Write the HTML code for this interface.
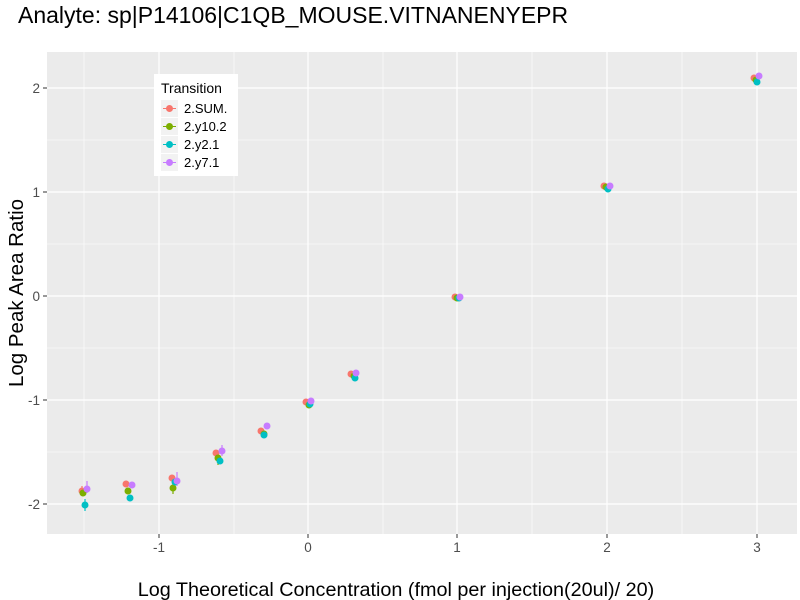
<!DOCTYPE html>
<html><head><style>body{margin:0;background:#fff}svg{display:block;font-family:"Liberation Sans",sans-serif}</style></head>
<body>
<svg width="800" height="600" xmlns="http://www.w3.org/2000/svg">
<rect width="800" height="600" fill="#fff"/>
<text x="18" y="23" font-size="23" fill="#000">Analyte: sp|P14106|C1QB_MOUSE.VITNANENYEPR</text>
<rect x="47" y="52" width="750" height="482" fill="#EBEBEB"/>
<g stroke="#fff" stroke-width="0.6">
<line x1="84" x2="84" y1="52" y2="534"/><line x1="234" x2="234" y1="52" y2="534"/><line x1="383" x2="383" y1="52" y2="534"/><line x1="532" x2="532" y1="52" y2="534"/><line x1="682" x2="682" y1="52" y2="534"/>
<line x1="47" x2="797" y1="140" y2="140"/><line x1="47" x2="797" y1="244" y2="244"/><line x1="47" x2="797" y1="348" y2="348"/><line x1="47" x2="797" y1="452" y2="452"/>
</g>
<g stroke="#fff" stroke-width="1.2">
<line x1="159" x2="159" y1="52" y2="534"/><line x1="308" x2="308" y1="52" y2="534"/><line x1="457" x2="457" y1="52" y2="534"/><line x1="607" x2="607" y1="52" y2="534"/><line x1="757" x2="757" y1="52" y2="534"/>
<line x1="47" x2="797" y1="88" y2="88"/><line x1="47" x2="797" y1="192" y2="192"/><line x1="47" x2="797" y1="296" y2="296"/><line x1="47" x2="797" y1="400" y2="400"/><line x1="47" x2="797" y1="504" y2="504"/>
</g>
<g stroke-width="1.2">
<line x1="82" x2="82" y1="486" y2="496" stroke="#F8766D"/>
<line x1="87" x2="87" y1="481" y2="493" stroke="#C77CFF"/>
<line x1="85" x2="85" y1="499" y2="511" stroke="#00BFC4"/>
<line x1="177" x2="177" y1="472" y2="486" stroke="#C77CFF"/>
<line x1="173" x2="173" y1="483" y2="494" stroke="#7CAE00"/>
<line x1="222" x2="222" y1="445" y2="456" stroke="#C77CFF"/>
<line x1="218" x2="218" y1="454" y2="465" stroke="#7CAE00"/>
</g>
<g>
<g fill="#F8766D"><circle cx="82" cy="491" r="3.5"/><circle cx="126" cy="484" r="3.5"/><circle cx="172" cy="478" r="3.5"/><circle cx="216" cy="453" r="3.5"/><circle cx="261" cy="431" r="3.5"/><circle cx="306" cy="402" r="3.5"/><circle cx="351" cy="374" r="3.5"/><circle cx="455" cy="297" r="3.5"/><circle cx="604" cy="186" r="3.5"/><circle cx="754" cy="78" r="3.5"/></g>
<g fill="#7CAE00"><circle cx="83" cy="493" r="3.5"/><circle cx="128" cy="491" r="3.5"/><circle cx="173" cy="488" r="3.5"/><circle cx="218" cy="458" r="3.5"/><circle cx="264" cy="434" r="3.5"/><circle cx="309" cy="405" r="3.5"/><circle cx="354" cy="376" r="3.5"/><circle cx="457" cy="298" r="3.5"/><circle cx="606" cy="187" r="3.5"/><circle cx="756" cy="80" r="3.5"/></g>
<g fill="#00BFC4"><circle cx="85" cy="505" r="3.5"/><circle cx="130" cy="498" r="3.5"/><circle cx="175" cy="482" r="3.5"/><circle cx="220" cy="461" r="3.5"/><circle cx="264" cy="435" r="3.5"/><circle cx="310" cy="404" r="3.5"/><circle cx="355" cy="378" r="3.5"/><circle cx="459" cy="298" r="3.5"/><circle cx="608" cy="189" r="3.5"/><circle cx="757" cy="82" r="3.5"/></g>
<g fill="#C77CFF"><circle cx="87" cy="489" r="3.5"/><circle cx="132" cy="485" r="3.5"/><circle cx="177" cy="481" r="3.5"/><circle cx="222" cy="451" r="3.5"/><circle cx="267" cy="426" r="3.5"/><circle cx="311" cy="401" r="3.5"/><circle cx="356" cy="373" r="3.5"/><circle cx="460" cy="297" r="3.5"/><circle cx="610" cy="186" r="3.5"/><circle cx="759" cy="76" r="3.5"/></g>
</g>
<rect x="154" y="74" width="84" height="102" fill="#fff"/>
<text x="161" y="93" font-size="14">Transition</text>
<g font-size="13">
<rect x="161" y="100" width="17" height="17" fill="#F2F2F2"/><line x1="163" x2="176" y1="108.5" y2="108.5" stroke="#F8766D"/><circle cx="169.5" cy="108.5" r="3.5" fill="#F8766D"/><text x="184" y="113">2.SUM.</text>
<rect x="161" y="118" width="17" height="17" fill="#F2F2F2"/><line x1="163" x2="176" y1="126.5" y2="126.5" stroke="#7CAE00"/><circle cx="169.5" cy="126.5" r="3.5" fill="#7CAE00"/><text x="184" y="131">2.y10.2</text>
<rect x="161" y="136" width="17" height="17" fill="#F2F2F2"/><line x1="163" x2="176" y1="144.5" y2="144.5" stroke="#00BFC4"/><circle cx="169.5" cy="144.5" r="3.5" fill="#00BFC4"/><text x="184" y="149">2.y2.1</text>
<rect x="161" y="154" width="17" height="17" fill="#F2F2F2"/><line x1="163" x2="176" y1="162.5" y2="162.5" stroke="#C77CFF"/><circle cx="169.5" cy="162.5" r="3.5" fill="#C77CFF"/><text x="184" y="167">2.y7.1</text>
</g>
<g stroke="#333" stroke-width="1">
<line x1="159" x2="159" y1="534" y2="538"/><line x1="308" x2="308" y1="534" y2="538"/><line x1="457" x2="457" y1="534" y2="538"/><line x1="607" x2="607" y1="534" y2="538"/><line x1="757" x2="757" y1="534" y2="538"/>
<line x1="43" x2="47" y1="88" y2="88"/><line x1="43" x2="47" y1="192" y2="192"/><line x1="43" x2="47" y1="296" y2="296"/><line x1="43" x2="47" y1="400" y2="400"/><line x1="43" x2="47" y1="504" y2="504"/>
</g>
<g font-size="13.5" fill="#4D4D4D" text-anchor="middle">
<text x="159" y="552">-1</text><text x="308" y="552">0</text><text x="457" y="552">1</text><text x="607" y="552">2</text><text x="757" y="552">3</text>
</g>
<g font-size="13.5" fill="#4D4D4D" text-anchor="end">
<text x="40" y="93">2</text><text x="40" y="197">1</text><text x="40" y="301">0</text><text x="40" y="405">-1</text><text x="40" y="509">-2</text>
</g>
<text x="396" y="596" font-size="19.8" text-anchor="middle">Log Theoretical Concentration (fmol per injection(20ul)/ 20)</text>
<text transform="translate(23,293) rotate(-90)" font-size="20.5" text-anchor="middle">Log Peak Area Ratio</text>
</svg>
</body></html>
